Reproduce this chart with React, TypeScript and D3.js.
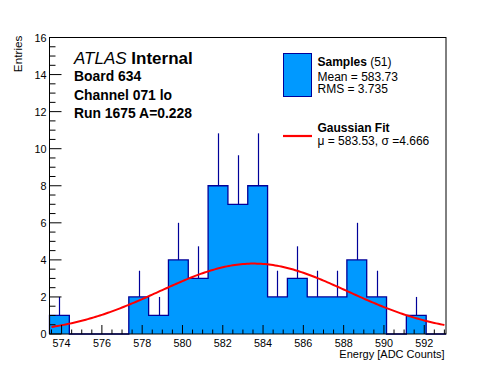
import React from "react";
import * as d3 from "d3";

// histogram: 20 bins, low edge and width
const binLow = 573.4;
const binWidth = 0.984;
const counts = [1, 0, 0, 0, 2, 1, 4, 3, 8, 7, 8, 2, 3, 2, 2, 4, 2, 0, 1, 0];

// gaussian fit parameters
const fitConst = 3.8;
const fitMean = 583.53;
const fitSigma = 4.666;

const xTicks = [574, 576, 578, 580, 582, 584, 586, 588, 590, 592];
const yTicks = [0, 2, 4, 6, 8, 10, 12, 14, 16];

const labelLines = ["Board 634", "Channel 071 lo", "Run 1675 A=0.228"];

const W = 496;
const H = 372;
const FONT = "'Liberation Sans', Arial, Helvetica, sans-serif";
const FILL = "#0099ff";
const LINE = "#000099";

export default function App() {
  const left = 49.5;
  const right = 446;
  const top = 37.5;
  const bottom = 334;

  const xMax = binLow + binWidth * counts.length;
  const x = d3.scaleLinear().domain([binLow, xMax]).range([left, right]);
  const y = d3.scaleLinear().domain([0, 16]).range([bottom, top]);

  const bins = counts.map((v, i) => ({
    x0: binLow + i * binWidth,
    x1: binLow + (i + 1) * binWidth,
    v,
  }));

  // outline of the histogram as one step path (also used for the fill)
  const pts: [number, number][] = [[x(binLow), y(0)]];
  bins.forEach((b) => {
    pts.push([x(b.x0), y(b.v)]);
    pts.push([x(b.x1), y(b.v)]);
  });
  pts.push([x(xMax), y(0)]);
  const outline = d3.line()(pts) ?? "";

  const gaus = (e: number) =>
    fitConst * Math.exp(-((e - fitMean) ** 2) / (2 * fitSigma * fitSigma));
  const fitX = d3.range(573.5, xMax, 0.1);
  const fitPath = d3
    .line<number>()
    .x((e) => x(e))
    .y((e) => y(gaus(e)))(fitX);

  const xMinor = d3.range(573.5, xMax, 0.5);
  const yMinor = d3.range(0, 16.01, 0.5);

  return (
    <svg
      width={W}
      height={H}
      style={{ position: "absolute", left: 0, top: 0, background: "#fff" }}
      fontFamily={FONT}
    >
      <rect width={W} height={H} fill="#fff" />
      <path d={outline + "Z"} fill={FILL} stroke="none" />
      {/* error bars, upper half only */}
      {bins
        .filter((b) => b.v > 0)
        .map((b, i) => (
          <line
            key={"e" + i}
            x1={Math.round(x((b.x0 + b.x1) / 2)) + 0.5}
            x2={Math.round(x((b.x0 + b.x1) / 2)) + 0.5}
            y1={y(b.v)}
            y2={y(b.v + Math.sqrt(b.v))}
            stroke={LINE}
            strokeWidth={1.2}
          />
        ))}
      <path d={outline} fill="none" stroke={LINE} strokeWidth={1.3} />
      <path d={fitPath ?? ""} fill="none" stroke="#ff0000" strokeWidth={2} />

      {/* frame */}
      <rect
        x={left}
        y={top}
        width={right - left}
        height={bottom - top}
        fill="none"
        stroke="#000"
        strokeWidth={1}
      />

      {/* x axis */}
      {xMinor.map((t, i) => {
        const major = xTicks.includes(Math.round(t * 2) / 2);
        return (
          <line
            key={"xm" + i}
            x1={x(t)}
            x2={x(t)}
            y1={bottom}
            y2={bottom - (major ? 9 : 4.5)}
            stroke="#000"
          />
        );
      })}
      {xTicks.map((t) => (
        <text
          key={"xl" + t}
          x={x(t)}
          y={346.7}
          fontSize={10.8}
          textAnchor="middle"
        >
          {t}
        </text>
      ))}
      <text x={444.5} y={358.3} fontSize={11} textAnchor="end">
        Energy [ADC Counts]
      </text>

      {/* y axis */}
      {yMinor.map((t, i) => {
        const major = yTicks.includes(t);
        return (
          <line
            key={"ym" + i}
            x1={left}
            x2={left + (major ? 12 : 6)}
            y1={y(t)}
            y2={y(t)}
            stroke="#000"
          />
        );
      })}
      {yTicks.map((t) => (
        <text
          key={"yl" + t}
          x={46.5}
          y={y(t) + 4}
          fontSize={10.8}
          textAnchor="end"
        >
          {t}
        </text>
      ))}
      <text
        transform={`translate(22,${top - 2}) rotate(-90)`}
        fontSize={11.8}
        textAnchor="end"
      >
        Entries
      </text>

      {/* ATLAS label */}
      <text x={74} y={63.5} fontSize={17}>
        <tspan fontStyle="italic">ATLAS</tspan>
        <tspan fontWeight="bold"> Internal</tspan>
      </text>
      {labelLines.map((s, i) => (
        <text
          key={s}
          x={74}
          y={81 + i * 18.6}
          fontSize={13.9}
          fontWeight="bold"
        >
          {s}
        </text>
      ))}

      {/* legend */}
      <rect
        x={283.5}
        y={53.5}
        width={28}
        height={43}
        fill={FILL}
        stroke={LINE}
        strokeWidth={1}
      />
      <text x={317.5} y={65.7} fontSize={12}>
        <tspan fontWeight="bold">Samples</tspan>
        <tspan> (51)</tspan>
      </text>
      <text x={317.5} y={80.7} fontSize={12}>
        Mean = 583.73
      </text>
      <text x={317.5} y={93.3} fontSize={12}>
        RMS = 3.735
      </text>
      <line x1={283} x2={312} y1={136} y2={136} stroke="#ff0000" strokeWidth={2.2} />
      <text x={317.5} y={132.3} fontSize={12} fontWeight="bold">
        Gaussian Fit
      </text>
      <text x={317.5} y={145} fontSize={12}>
        μ = 583.53, σ =4.666
      </text>
    </svg>
  );
}
